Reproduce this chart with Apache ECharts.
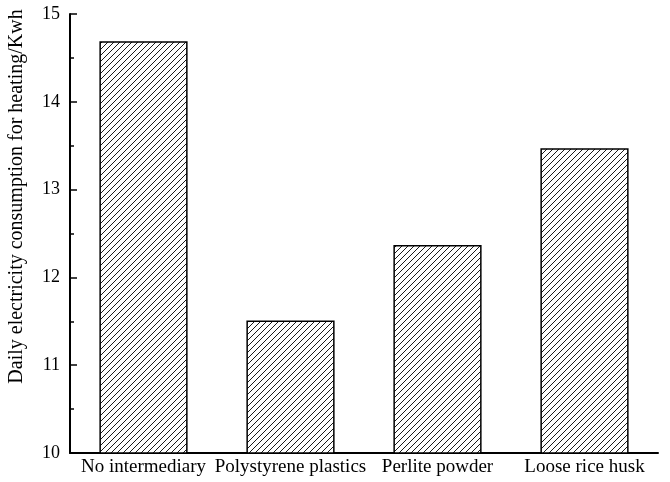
<!DOCTYPE html>
<html><head><meta charset="utf-8">
<script src="https://cdn.jsdelivr.net/npm/echarts@6/dist/echarts.min.js"></script>
<style>html,body{margin:0;padding:0;background:#fff}#c{width:670px;height:482px}</style>
</head><body><div id="c"></div>
<script>
const categories = ['No intermediary', 'Polystyrene plastics', 'Perlite powder', 'Loose rice husk'];
const values = [14.69, 11.51, 12.37, 13.47];
const yTicks = [10, 11, 12, 13, 14, 15];

// hatch pattern tile
const tile = document.createElement('canvas');
const s = 6;
tile.width = s; tile.height = s;
const g = tile.getContext('2d');
g.fillStyle = '#fff'; g.fillRect(0, 0, s, s);
g.strokeStyle = '#000'; g.lineWidth = 0.9;
g.beginPath();
g.moveTo(-1, s + 1); g.lineTo(s + 1, -1);
g.moveTo(-1, 1); g.lineTo(1, -1);
g.moveTo(s - 1, s + 1); g.lineTo(s + 1, s - 1);
g.stroke();

const font = '"Liberation Serif", "Times New Roman", serif';
const chart = echarts.init(document.getElementById('c'));
chart.setOption({
  animation: false,
  grid: { left: 70, right: 12, top: 14, bottom: 29, containLabel: false, outerBoundsMode: 'none' },
  xAxis: {
    type: 'category', data: categories,
    axisLine: { lineStyle: { color: '#000', width: 2 } },
    axisTick: { inside: true, alignWithLabel: true, length: 5, lineStyle: { color: '#000', width: 1.5 } },
    axisLabel: { color: '#000', fontFamily: font, fontSize: 19, margin: 5, interval: 0 }
  },
  yAxis: {
    type: 'value', min: yTicks[0], max: yTicks[yTicks.length - 1], interval: 1,
    name: 'Daily electricity consumption for heating/Kwh',
    nameLocation: 'middle', nameGap: 43,
    nameTextStyle: { color: '#000', fontFamily: font, fontSize: 20, padding: [0, 0, 0, 74] },
    axisLine: { show: true, lineStyle: { color: '#000', width: 2 } },
    axisTick: { show: true, inside: true, length: 7, lineStyle: { color: '#000', width: 1.5 } },
    minorTick: { show: true, splitNumber: 2, length: 4, lineStyle: { color: '#000', width: 1.5 } },
    splitLine: { show: false },
    axisLabel: { color: '#000', fontFamily: font, fontSize: 18, margin: 10 }
  },
  series: [{
    type: 'bar', data: values, barWidth: '60%',
    itemStyle: { color: { image: tile, repeat: 'repeat' }, borderColor: '#000', borderWidth: 1.5 }
  }]
});
</script></body></html>
